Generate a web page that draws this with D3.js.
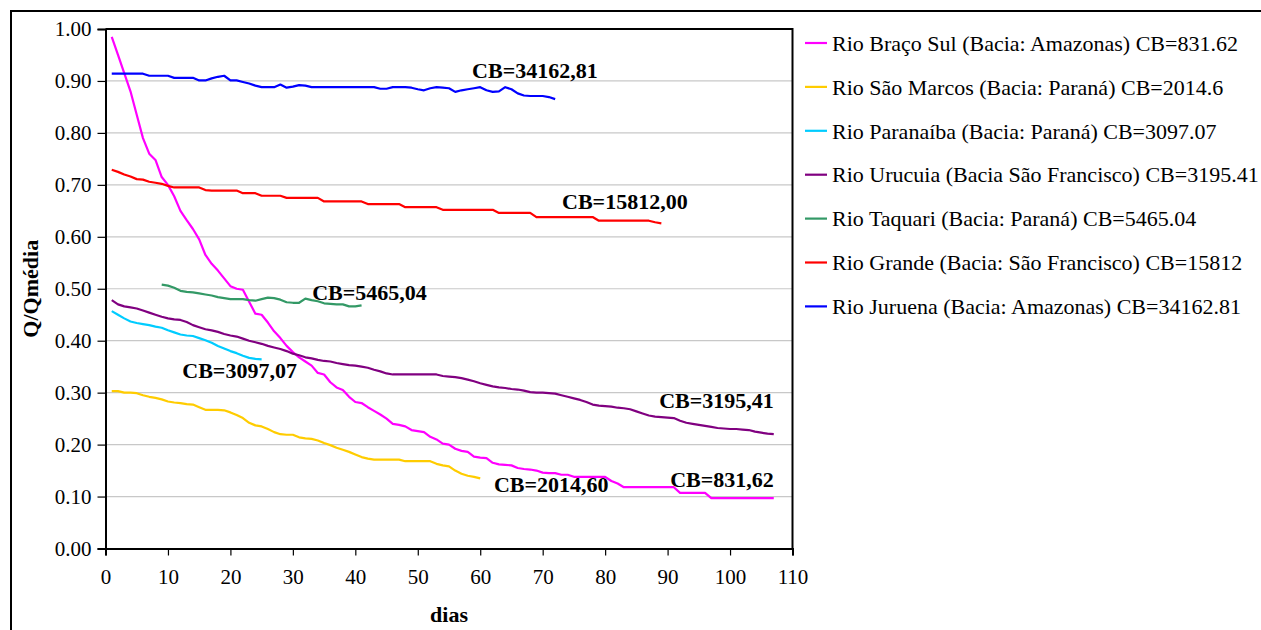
<!DOCTYPE html>
<html>
<head>
<meta charset="utf-8">
<script src="https://cdn.jsdelivr.net/npm/d3@7"></script>
<style>
  html, body { margin: 0; padding: 0; background: #fff; }
  svg { display: block; }
  text { font-family: "Liberation Serif", "Times New Roman", serif; }
</style>
</head>
<body>
<svg id="chart" width="1261" height="630"></svg>
<script>
// ---------- DATA ----------
const seriesNames = [
  "Rio Braço Sul (Bacia: Amazonas) CB=831.62",
  "Rio São Marcos (Bacia: Paraná) CB=2014.6",
  "Rio Paranaíba (Bacia: Paraná) CB=3097.07",
  "Rio Urucuia (Bacia São Francisco) CB=3195.41",
  "Rio Taquari (Bacia: Paraná) CB=5465.04",
  "Rio Grande (Bacia: São Francisco) CB=15812",
  "Rio Juruena (Bacia: Amazonas) CB=34162.81"
];
const seriesColors = ["#FF00FF", "#FFCC00", "#00CCFF", "#800080", "#339966", "#FF0000", "#0000FF"];

// first day of each series
const startDays = [1, 1, 1, 1, 9, 1, 1];

// Q/Qmédia per day
const bracoSul = [0.985,0.950,0.915,0.880,0.835,0.790,0.760,0.748,0.715,0.700,
  0.678,0.650,0.632,0.615,0.595,0.565,0.548,0.535,0.520,0.505,
  0.500,0.498,0.475,0.452,0.450,0.435,0.418,0.405,0.390,0.378,
  0.368,0.360,0.352,0.338,0.335,0.320,0.310,0.305,0.292,0.282,
  0.280,0.272,0.265,0.258,0.250,0.240,0.238,0.235,0.228,0.226,
  0.224,0.215,0.210,0.202,0.200,0.192,0.188,0.186,0.177,0.175,
  0.174,0.165,0.162,0.161,0.160,0.155,0.153,0.152,0.150,0.146,
  0.145,0.145,0.142,0.142,0.138,0.138,0.138,0.138,0.138,0.138,
  0.130,0.125,0.118,0.118,0.118,0.118,0.118,0.118,0.118,0.118,
  0.118,0.107,0.107,0.107,0.107,0.107,0.097,0.097,0.097,0.097,
  0.097,0.097,0.097,0.097,0.097,0.097,0.097];
const saoMarcos = [0.303,0.303,0.300,0.300,0.299,0.295,0.292,0.290,0.287,0.283,
  0.281,0.280,0.278,0.277,0.272,0.267,0.267,0.267,0.266,0.262,
  0.257,0.251,0.242,0.237,0.235,0.230,0.224,0.220,0.219,0.219,
  0.214,0.212,0.211,0.208,0.203,0.199,0.194,0.190,0.186,0.181,
  0.176,0.173,0.171,0.171,0.171,0.171,0.171,0.168,0.168,0.168,
  0.168,0.168,0.163,0.160,0.158,0.150,0.144,0.140,0.138,0.135];
const paranaiba = [0.457,0.450,0.443,0.437,0.434,0.432,0.430,0.427,0.425,0.420,
  0.416,0.412,0.410,0.409,0.405,0.401,0.396,0.390,0.385,0.380,
  0.376,0.371,0.367,0.365,0.364];
const urucuia = [0.478,0.470,0.466,0.464,0.462,0.458,0.454,0.450,0.446,0.443,
  0.441,0.440,0.436,0.430,0.426,0.422,0.420,0.417,0.413,0.410,
  0.408,0.404,0.400,0.397,0.394,0.390,0.387,0.384,0.380,0.375,
  0.372,0.368,0.366,0.363,0.361,0.360,0.357,0.355,0.353,0.352,
  0.350,0.348,0.344,0.341,0.337,0.335,0.335,0.335,0.335,0.335,
  0.335,0.335,0.335,0.332,0.331,0.330,0.328,0.325,0.322,0.318,
  0.315,0.312,0.310,0.309,0.307,0.306,0.304,0.301,0.300,0.300,
  0.299,0.298,0.295,0.292,0.289,0.286,0.282,0.277,0.275,0.274,
  0.273,0.271,0.270,0.268,0.264,0.260,0.256,0.254,0.253,0.252,
  0.251,0.246,0.242,0.240,0.238,0.236,0.234,0.232,0.231,0.230,
  0.230,0.229,0.228,0.225,0.223,0.221,0.220];
const taquari = [0.508,0.506,0.502,0.496,0.494,0.493,0.491,0.489,0.487,0.484,
  0.482,0.480,0.480,0.480,0.478,0.477,0.480,0.483,0.482,0.479,
  0.474,0.473,0.473,0.481,0.478,0.476,0.472,0.471,0.470,0.470,
  0.466,0.466,0.468];
const grande = [0.729,0.725,0.720,0.716,0.711,0.710,0.706,0.704,0.702,0.698,
  0.695,0.695,0.695,0.695,0.695,0.690,0.689,0.689,0.689,0.689,
  0.689,0.684,0.684,0.684,0.679,0.679,0.679,0.679,0.675,0.675,
  0.675,0.675,0.675,0.675,0.668,0.668,0.668,0.668,0.668,0.668,
  0.668,0.663,0.663,0.663,0.663,0.663,0.663,0.657,0.657,0.657,
  0.657,0.657,0.657,0.652,0.652,0.652,0.652,0.652,0.652,0.652,
  0.652,0.652,0.646,0.646,0.646,0.646,0.646,0.646,0.638,0.638,
  0.638,0.638,0.638,0.638,0.638,0.638,0.638,0.638,0.631,0.631,
  0.631,0.631,0.631,0.631,0.631,0.631,0.631,0.628,0.626];
const juruena = [0.914,0.914,0.914,0.914,0.914,0.914,0.910,0.910,0.910,0.910,
  0.906,0.906,0.906,0.906,0.901,0.901,0.905,0.908,0.910,0.901,
  0.901,0.898,0.895,0.891,0.888,0.888,0.888,0.893,0.887,0.889,
  0.892,0.891,0.888,0.888,0.888,0.888,0.888,0.888,0.888,0.888,
  0.888,0.888,0.888,0.885,0.885,0.888,0.888,0.888,0.887,0.884,
  0.882,0.886,0.888,0.887,0.886,0.879,0.882,0.884,0.886,0.888,
  0.882,0.879,0.880,0.888,0.884,0.876,0.872,0.871,0.871,0.871,
  0.869,0.865];

const seriesValues = [bracoSul, saoMarcos, paranaiba, urucuia, taquari, grande, juruena];

// in-chart labels (anchor in data units)
const labelTexts = ["CB=831,62", "CB=2014,60", "CB=3097,07", "CB=3195,41", "CB=5465,04", "CB=15812,00", "CB=34162,81"];
const labelAnchorDay = [107, 62.2, 12.3, 107, 33.1, 73.1, 58.7];
const labelAnchorVal = [0.118, 0.109, 0.328, 0.271, 0.479, 0.653, 0.905];

const xTicks = [0,10,20,30,40,50,60,70,80,90,100,110];
const yTicks = [0,0.1,0.2,0.3,0.4,0.5,0.6,0.7,0.8,0.9,1.0];
const xTitle = "dias";
const yTitle = "Q/Qmédia";

// ---------- LAYOUT ----------
const FONT = '"Liberation Serif", "Times New Roman", serif';
const svg = d3.select("#chart");
const L = 105.5, R = 792.5, T = 29, B = 548.5;
const x = d3.scaleLinear().domain([0, 110]).range([L, R]);
const y = d3.scaleLinear().domain([0, 1]).range([B, T]);

// outer frame
svg.append("rect").attr("x", 11).attr("y", 11).attr("width", 1400).attr("height", 800)
  .attr("fill", "none").attr("stroke", "#000").attr("stroke-width", 2);

// gridlines
svg.append("g").selectAll("line").data(yTicks.filter(v => v > 0 && v < 1)).join("line")
  .attr("x1", L).attr("x2", R).attr("y1", d => y(d)).attr("y2", d => y(d))
  .attr("stroke", "#c8c8c8").attr("stroke-width", 1.2);

// plot border (top & right)
svg.append("path").attr("d", `M${L},${T}H${R}V${B}`).attr("fill", "none")
  .attr("stroke", "#000").attr("stroke-width", 2);

// axes
const fmtY = d3.format(".2f");
const yAxis = d3.axisLeft(y).tickValues(yTicks).tickFormat(fmtY).tickSize(8).tickPadding(6);
const xAxis = d3.axisBottom(x).tickValues(xTicks).tickFormat(d3.format("d")).tickSize(7).tickPadding(14);

const gy = svg.append("g").attr("transform", `translate(${L},0)`).call(yAxis);
const gx = svg.append("g").attr("transform", `translate(0,${B})`).call(xAxis);
[gy, gx].forEach(g => {
  g.attr("font-family", FONT);
  g.select(".domain").attr("stroke", "#000").attr("stroke-width", 2);
  g.selectAll(".tick line").attr("stroke", "#000").attr("stroke-width", 1.2);
  g.selectAll(".tick text").attr("fill", "#000")
    .style("font-family", FONT)
    .style("font-size", "21px");
});

// lines
const line = d3.line().x(d => x(d.day)).y(d => y(d.v));
seriesValues.forEach((vals, i) => {
  const pts = vals.map((v, k) => ({ day: startDays[i] + k, v }));
  svg.append("path").datum(pts).attr("d", line)
    .attr("fill", "none").attr("stroke", seriesColors[i]).attr("stroke-width", 2.2)
    .attr("stroke-linejoin", "round");
});

// in-chart labels
labelTexts.forEach((t, i) => {
  svg.append("text").attr("x", x(labelAnchorDay[i])).attr("y", y(labelAnchorVal[i]))
    .attr("text-anchor", i === 0 || i === 3 ? "end" : "start")
    .style("font-family", FONT)
    .style("font-size", "22px").style("font-weight", "bold").attr("fill", "#000")
    .text(t);
});

// axis titles
svg.append("text").attr("x", (L + R) / 2).attr("y", 622).attr("text-anchor", "middle")
  .style("font-family", FONT)
  .style("font-size", "22px").style("font-weight", "bold").text(xTitle);
svg.append("text").attr("transform", `translate(38,${(T + B) / 2}) rotate(-90)`)
  .attr("text-anchor", "middle")
  .style("font-family", FONT)
  .style("font-size", "22px").style("font-weight", "bold").text(yTitle);

// legend
const lg = svg.append("g");
seriesNames.forEach((n, i) => {
  const cy = 43 + i * 43.9;
  lg.append("line").attr("x1", 805).attr("x2", 827).attr("y1", cy).attr("y2", cy)
    .attr("stroke", seriesColors[i]).attr("stroke-width", 2.2);
  lg.append("text").attr("x", 832).attr("y", cy).attr("dy", "0.35em")
    .style("font-family", FONT)
    .style("font-size", "22px").attr("fill", "#000").text(n);
});
</script>
</body>
</html>
